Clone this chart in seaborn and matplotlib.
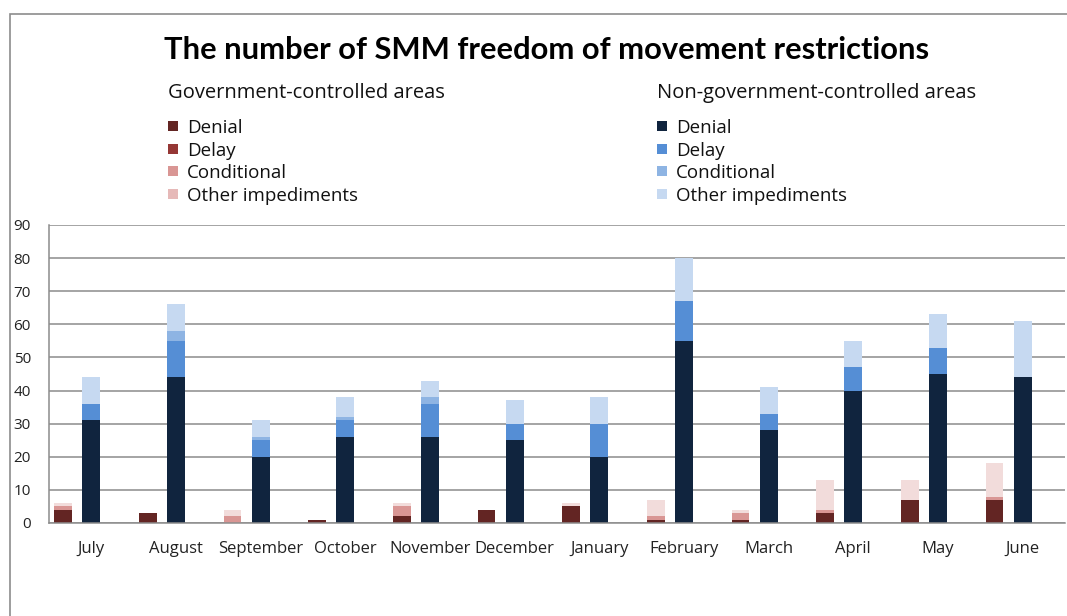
import matplotlib.pyplot as plt
import matplotlib.patches as mpatches
import pandas as pd
import seaborn as sns

months = ["July", "August", "September", "October", "November", "December",
          "January", "February", "March", "April", "May", "June"]

gov_denial = [4, 3, 0, 1, 2, 4, 5, 1, 1, 3, 7, 7]
gov_delay = [0, 0, 0, 0, 0, 0, 0, 0, 0, 0, 0, 0]
gov_conditional = [1, 0, 2, 0, 3, 0, 0, 1, 2, 1, 0, 1]
gov_other = [1, 0, 2, 0, 1, 0, 1, 5, 1, 9, 6, 10]

ngca_denial = [31, 44, 20, 26, 26, 25, 20, 55, 28, 40, 45, 44]
ngca_delay = [5, 11, 5, 5, 10, 5, 10, 12, 5, 7, 8, 0]
ngca_conditional = [0, 3, 1, 1, 2, 0, 0, 0, 0, 0, 0, 0]
ngca_other = [8, 8, 5, 6, 5, 7, 8, 13, 8, 8, 10, 17]

categories = ["Denial", "Delay", "Conditional", "Other impediments"]
gov_colors = ["#632523", "#953735", "#D99694", "#F2DCDB"]
ngca_colors = ["#10243E", "#558ED5", "#8EB4E3", "#C6D9F1"]
gov_legend_colors = ["#632523", "#953735", "#D99694", "#E6B9B8"]

GOV = "Government-controlled areas"
NGCA = "Non-government-controlled areas"
PAD = "pad"

# long table with cumulative stack heights
rows = []
gov_series = [gov_denial, gov_delay, gov_conditional, gov_other]
ngca_series = [ngca_denial, ngca_delay, ngca_conditional, ngca_other]
for i, m in enumerate(months):
    g = n = 0
    for k, cat in enumerate(categories):
        g += gov_series[k][i]
        n += ngca_series[k][i]
        rows.append({"month": m, "area": GOV, "layer": k, "value": g})
        rows.append({"month": m, "area": NGCA, "layer": k, "value": n})
        rows.append({"month": m, "area": PAD, "layer": k, "value": 0})
df = pd.DataFrame(rows)

sns.set_style("white")
plt.rcParams["font.family"] = ["Open Sans", "DejaVu Sans"]

W, H = 1067, 616
fig = plt.figure(figsize=(W / 100, H / 100), dpi=100)


def fx(px):
    return px / W


def fy(py):
    return 1 - py / H


ax = fig.add_axes([fx(49), fy(523), fx(1065) - fx(49), fy(225) - fy(523)])

# draw tallest cumulative layer first so lower layers sit on top
for k in range(3, -1, -1):
    sns.barplot(
        data=df[df["layer"] == k], x="month", y="value", hue="area",
        order=months, hue_order=[GOV, NGCA, PAD],
        palette={GOV: gov_colors[k], NGCA: ngca_colors[k], PAD: "white"},
        width=1.0, gap=0.37, saturation=1, errorbar=None,
        legend=False, linewidth=0, ax=ax,
    )

ax.set_ylim(0, 90)
ax.set_yticks(range(0, 91, 10))
ax.set_xlim(-0.5, 11.5)
ax.set_xlabel("")
ax.set_ylabel("")
ax.grid(axis="y", color="#8C8C8C", linewidth=1.1)
ax.set_axisbelow(True)
for side in ["top", "right"]:
    ax.spines[side].set_visible(False)
for side in ["left", "bottom"]:
    ax.spines[side].set_color("#8C8C8C")
    ax.spines[side].set_linewidth(1.1)
ax.tick_params(axis="y", length=0, labelsize=11, colors="#222222", pad=13)
ax.tick_params(axis="x", length=0, labelsize=12, colors="#222222", pad=13)

# chart border
fig.add_artist(mpatches.Rectangle((fx(10), fy(640)), fx(1100), fy(14) - fy(640),
                                  transform=fig.transFigure, fill=False,
                                  edgecolor="#8C8C8C", linewidth=1.2))

fig.text(fx(547), fy(50), "The number of SMM freedom of movement restrictions",
         ha="center", va="center", fontsize=22.2, fontweight="bold", color="black",
         family=["Lato", "DejaVu Sans"])


def legend_block(x0, title, colors):
    fig.text(fx(x0), fy(93), title, ha="left", va="center", fontsize=14.5, color="#111111")
    for i, (lab, c) in enumerate(zip(categories, colors)):
        y = 126 + 22.7 * i
        fig.add_artist(mpatches.Rectangle((fx(x0), fy(y + 5)), fx(10), fy(y - 5) - fy(y + 5),
                                          transform=fig.transFigure, color=c, linewidth=0))
        fig.text(fx(x0 + 19), fy(y + 2), lab, ha="left", va="center", fontsize=13.5,
                 color="#111111")


legend_block(168, GOV, gov_legend_colors)
legend_block(657, NGCA, ngca_colors)

fig.savefig("out.png", dpi=100)
